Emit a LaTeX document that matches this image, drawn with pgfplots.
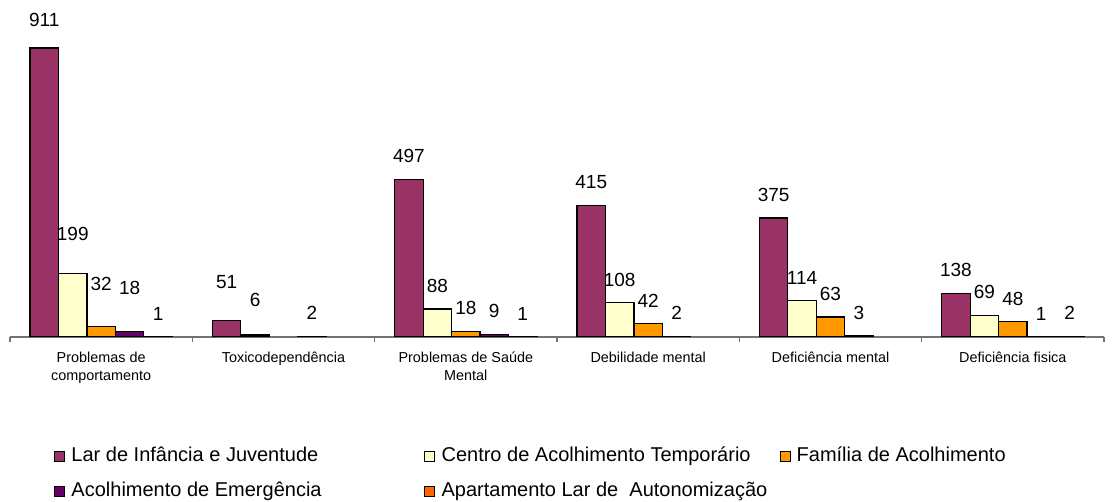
\documentclass[border=0pt]{standalone}
\usepackage{pgfplots}
\usepackage{pgfplotstable}
\pgfplotsset{compat=1.18}
\usepackage{fontspec}
\setmainfont{Liberation Sans}

\definecolor{lar}{HTML}{993366}
\definecolor{centro}{HTML}{FFFFCC}
\definecolor{familia}{HTML}{FF9900}
\definecolor{emerg}{HTML}{660066}
\definecolor{apart}{HTML}{FF6600}

% x = category, y = value, dy = extra lift of the value label (pt)
\pgfplotstableread{
x y dy
0 911 2.5
1 51 8
2 497 0
3 415 0
4 375 0
5 138 0
}\lar
\pgfplotstableread{
x y dy
0 199 8.5
1 6 6
2 88 0
3 108 0
4 114 0
5 69 0
}\centro
\pgfplotstableread{
x y dy
0 32 10
2 18 0
3 42 0
4 63 0
5 48 0
}\familia
\pgfplotstableread{
x y dy
0 18 10
1 2 0
2 9 0
3 2 0
4 3 0
5 1 0
}\emerg
\pgfplotstableread{
x y dy
0 1 0
2 1 0
5 2 0
}\apart

\begin{document}
\begin{tikzpicture}
\useasboundingbox (0,0) rectangle (557pt,251pt);
\begin{axis}[
    at={(5pt,82.5pt)}, anchor=south west,
    scale only axis,
    width=547pt, height=158.6pt,
    xmin=-0.5, xmax=5.5,
    ymin=0, ymax=1000,
    /pgf/number format/assume math mode=true,
    axis x line*=bottom,
    axis y line=none,
    x axis line style={draw=black!55, line width=0.6pt},
    xtick={0,...,5},
    xticklabels={{Problemas de\\comportamento},Toxicodependência,{Problemas de Saúde\\Mental},Debilidade mental,Deficiência mental,Deficiência fisica},
    xticklabel style={align=center, font=\fontsize{7.2}{9}\selectfont, yshift=-4pt},
    major tick length=0pt,
    minor xtick={-0.5,0.5,...,5.5},
    minor tick length=2.5pt,
    tick align=outside,
    minor tick style={draw=black!55, line width=0.6pt},
    ybar,
    bar width=0.156,
    every axis plot/.append style={draw=black, line width=0.6pt},
    nodes near coords,
    visualization depends on={\thisrow{dy} \as \dy},
    every node near coord/.append style={font=\fontsize{9.5}{10}\selectfont, anchor=center, yshift=11.5pt+\dy pt, text=black},
    legend columns=3,
    legend image code/.code={\draw[#1,draw=black,line width=0.5pt] (0pt,-2.5pt) rectangle (5pt,2.5pt); \path (6pt,0pt);},
    legend style={at={(axis description cs:0.0402,-0.334)}, anchor=north west, draw=none, fill=none,
        inner xsep=0pt, inner ysep=0pt, row sep=4.5pt,
        nodes={inner sep=2pt, text height=7pt, text depth=2pt},
        font=\fontsize{10}{11}\selectfont},
    legend cell align=left,
]
\addplot[fill=lar, bar shift=-0.312] table[x=x,y=y] {\lar};
\addplot[fill=centro, bar shift=-0.156] table[x=x,y=y] {\centro};
\addplot[fill=familia, bar shift=0] table[x=x,y=y] {\familia};
\addplot[fill=emerg, bar shift=0.156] table[x=x,y=y] {\emerg};
\addplot[fill=apart, bar shift=0.312] table[x=x,y=y] {\apart};
\addlegendentry{\makebox[174.5pt][l]{Lar de Infância e Juventude}}
\addlegendentry{\makebox[167pt][l]{Centro de Acolhimento Temporário}}
\addlegendentry{Família de Acolhimento}
\addlegendentry{\makebox[174.5pt][l]{Acolhimento de Emergência}}
\addlegendentry{\makebox[167pt][l]{Apartamento Lar de\ \ Autonomização}}
\end{axis}
\end{tikzpicture}
\end{document}
